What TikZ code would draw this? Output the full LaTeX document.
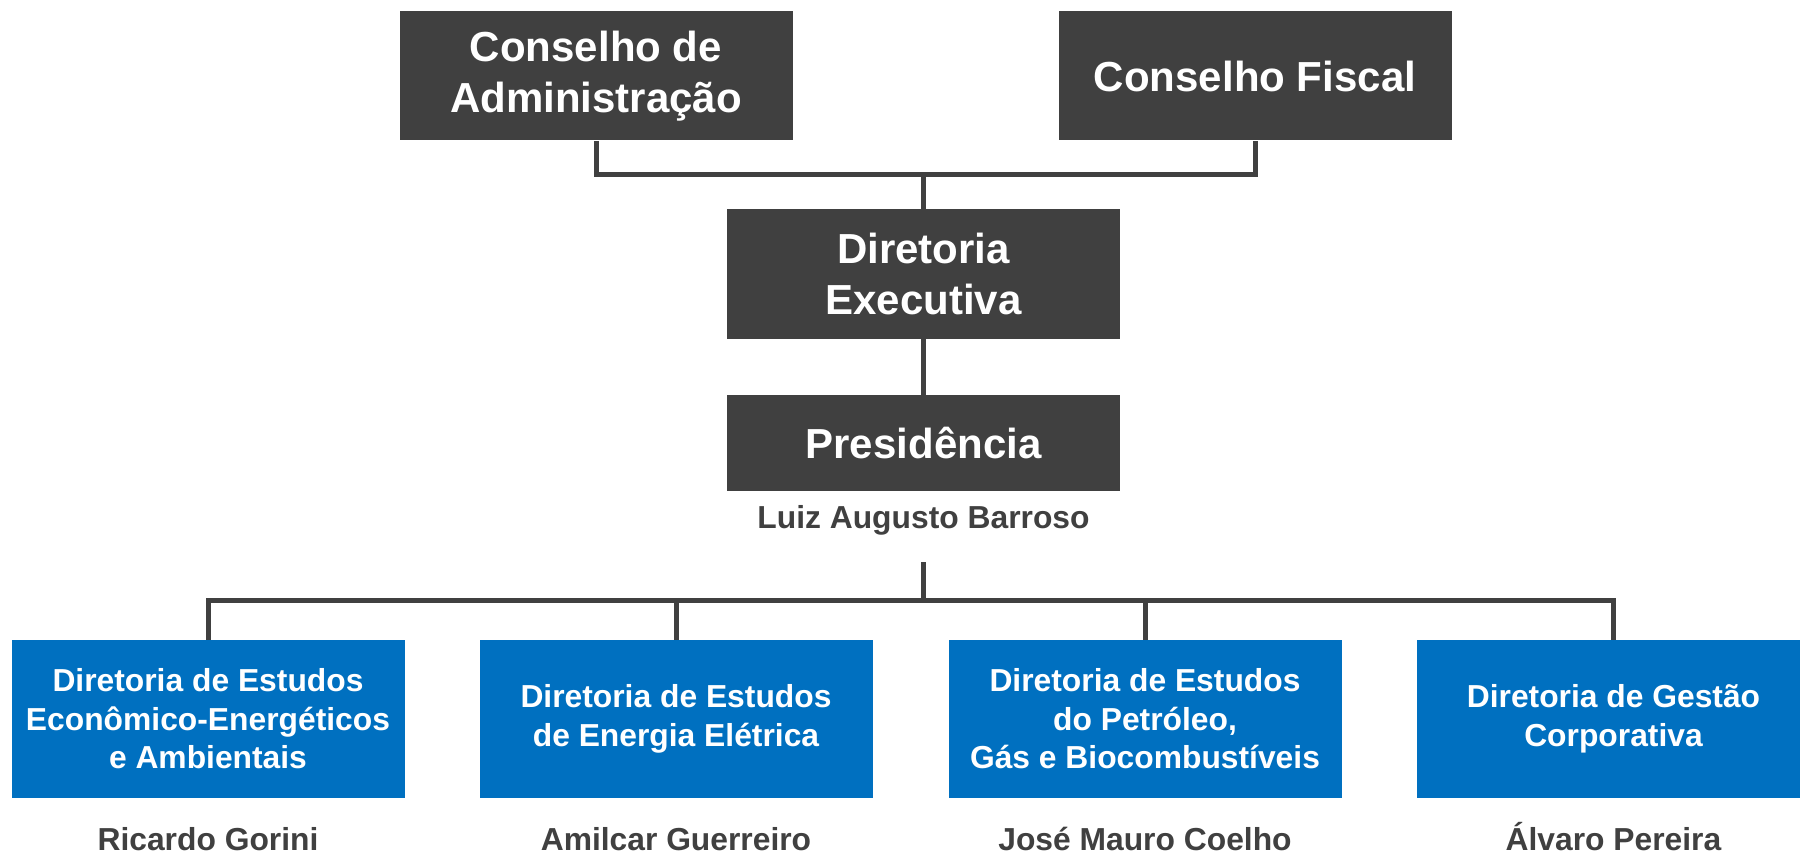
\documentclass[tikz,border=0pt]{standalone}
\usepackage{fontspec}
\setmainfont{Liberation Sans}
\definecolor{dk}{HTML}{404040}
\definecolor{bl}{HTML}{0070C0}
\begin{document}
\begin{tikzpicture}[x=0.5pt,y=-0.5pt,
  darkbox/.style={fill=dk,text=white,align=center,inner sep=0pt,minimum width=196.5pt,
    font=\fontsize{21}{25.3}\selectfont\bfseries},
  bluebox/.style={fill=bl,text=white,align=center,inner sep=0pt,minimum width=196.5pt,minimum height=79pt,
    font=\fontsize{15.9}{19.3}\selectfont\bfseries},
  namelab/.style={text=dk,inner sep=0pt,anchor=base,font=\fontsize{15.9}{19.3}\selectfont\bfseries},
  conn/.style={draw=dk,line width=2.5pt}]
\clip (0,0) rectangle (1800,856);
\fill[white] (0,0) rectangle (1800,856);
\node[darkbox,minimum height=64.5pt] (ca) at (596,76) {Conselho de\\Administração};
\node[darkbox,minimum height=64.5pt] (cf) at (1255,76) {Conselho Fiscal};
\node[darkbox,minimum height=65pt] (de) at (923.5,274) {Diretoria\\Executiva};
\node[darkbox,minimum height=48pt] (pr) at (923.5,443) {Presidência};
\node[text=dk,inner sep=0pt,font=\fontsize{15.9}{19.3}\selectfont\bfseries] (lab) at (923.5,520) {Luiz Augusto Barroso};
\node[bluebox] (b1) at (208,719) {Diretoria de Estudos\\Econômico-Energéticos\\e Ambientais};
\node[bluebox] (b2) at (676,719) {Diretoria de Estudos\\de Energia Elétrica};
\node[bluebox] (b3) at (1145,719) {Diretoria de Estudos\\do Petróleo,\\Gás e Biocombustíveis};
\node[bluebox] (b4) at (1613.5,719) {Diretoria de Gestão\\Corporativa};
\node[namelab] (n1) at (208,850) {Ricardo Gorini};
\node[namelab] (n2) at (676,850) {Amilcar Guerreiro};
\node[namelab] (n3) at (1145,850) {José Mauro Coelho};
\node[namelab] (n4) at (1613.5,850) {Álvaro Pereira};
\coordinate (j1) at (923.5,174.5);
\coordinate (j2) at (923.5,562);
\coordinate (j3) at (923.5,600);
\draw[conn] (ca.south) |- (j1) -| (cf.south);
\draw[conn] (j1) -- (de.north);
\draw[conn] (de.south) -- (pr.north);
\draw[conn] (j2) -- (j3);
\draw[conn] (b1.north) |- (j3) -| (b4.north);
\draw[conn] (b2.north) -- (b2.north |- j3);
\draw[conn] (b3.north) -- (b3.north |- j3);
\end{tikzpicture}
\end{document}
